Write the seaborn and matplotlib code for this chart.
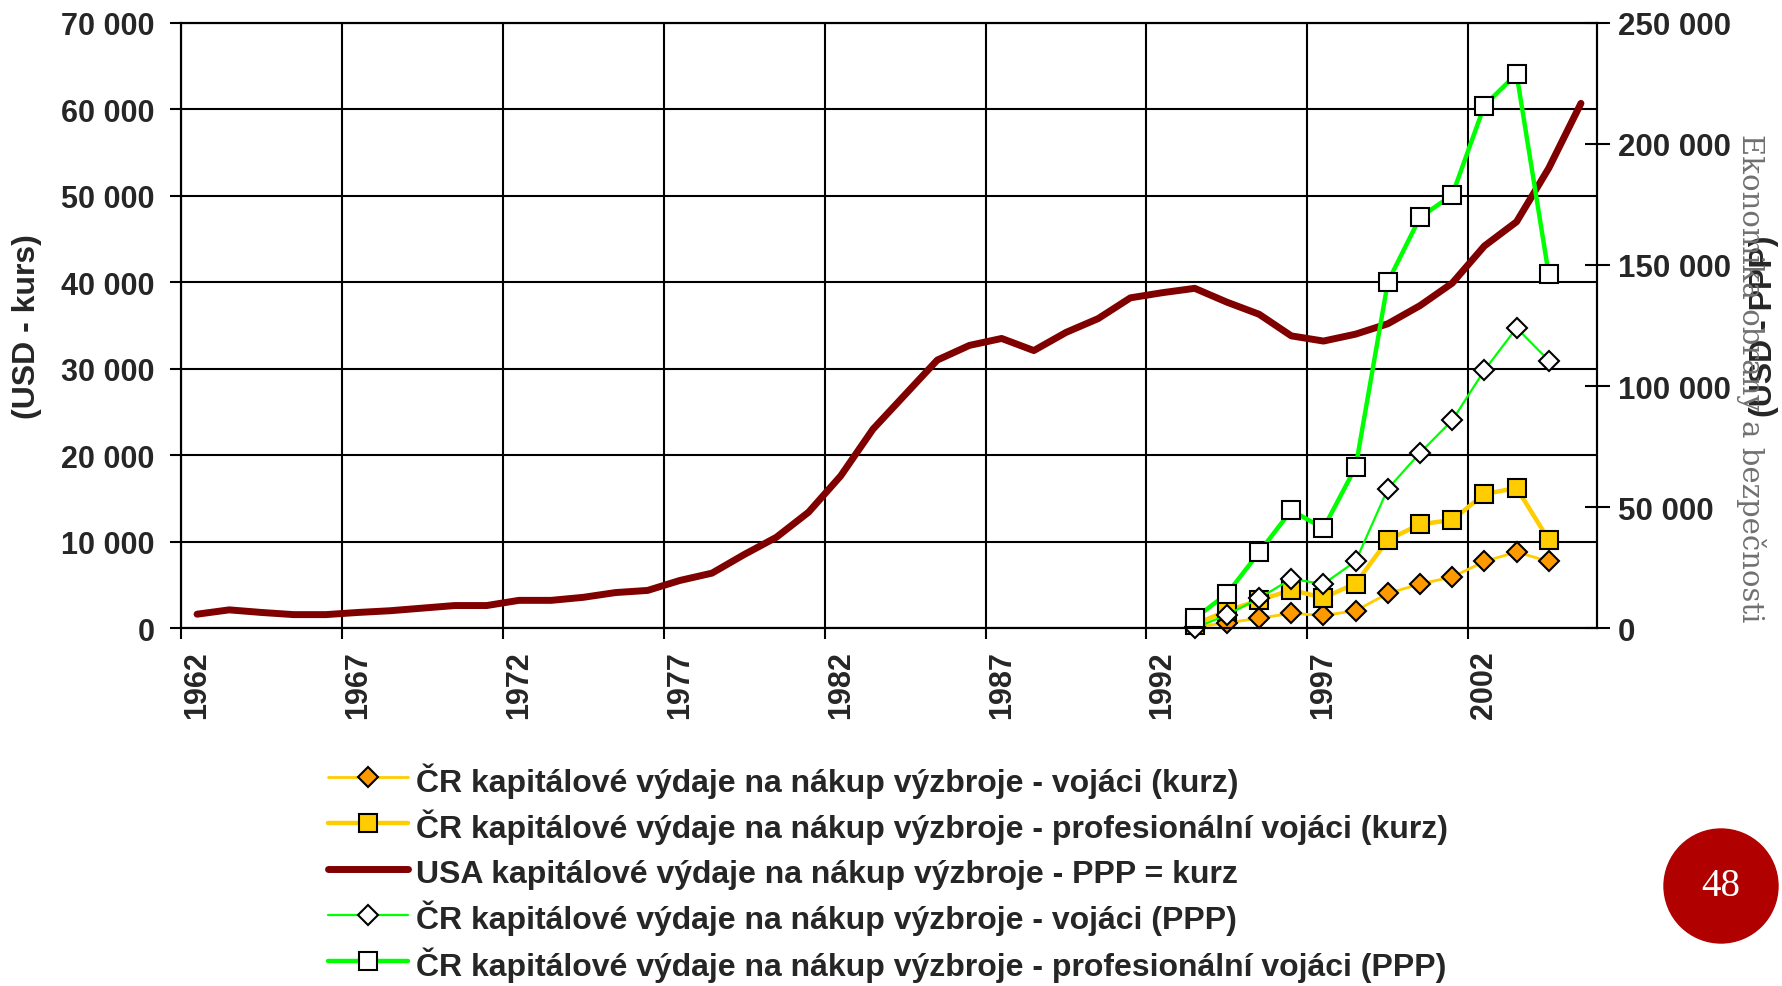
import numpy as np
import pandas as pd
import matplotlib
matplotlib.use("Agg")
import matplotlib.pyplot as plt
import seaborn as sns
from matplotlib.patches import Ellipse

# Data
years = list(range(1962, 2006))
usa_kurz = [1600, 2100, 1800, 1550, 1550, 1800, 2000, 2300, 2600, 2600,
            3200, 3200, 3550, 4100, 4350, 5500, 6350, 8500, 10500, 13400,
            17600, 23000, 27000, 31000, 32700, 33500, 32100, 34200, 35800, 38200,
            38800, 39300, 37700, 36300, 33800, 33200, 34000, 35200, 37300, 39900,
            44200, 47000, 53200, 60700]

cz_years = list(range(1993, 2005))
cz_voj_kurz = [100, 600, 1130, 1700, 1450, 2000, 4000, 5100, 5900, 7700, 8800, 7700]
cz_prof_kurz = [400, 2000, 3200, 4400, 3500, 5150, 10200, 12000, 12500, 15500, 16200, 10200]
cz_voj_ppp = [0, 5400, 12300, 20300, 18200, 27600, 57500, 72400, 85800, 106500, 124000, 110500]
cz_prof_ppp = [4000, 14100, 31300, 48600, 41200, 66500, 143000, 169700, 178900, 215900, 229000, 146100]

labels = [
    "ČR kapitálové výdaje na nákup výzbroje - vojáci (kurz)",
    "ČR kapitálové výdaje na nákup výzbroje - profesionální vojáci (kurz)",
    "USA kapitálové výdaje na nákup výzbroje - PPP = kurz",
    "ČR kapitálové výdaje na nákup výzbroje - vojáci (PPP)",
    "ČR kapitálové výdaje na nákup výzbroje - profesionální vojáci (PPP)",
]
left_ticks = list(range(0, 70001, 10000))
right_ticks = list(range(0, 250001, 50000))
xlabel_years = years[::5]

sns.set_theme(style="white")
plt.rcParams["font.family"] = ["Liberation Sans", "DejaVu Sans"]
plt.rcParams["font.weight"] = "bold"
plt.rcParams["axes.edgecolor"] = "black"
plt.rcParams["axes.linewidth"] = 1.5

fig = plt.figure(figsize=(17.83, 9.87), dpi=100)
ax = fig.add_axes([0.1015, 0.3627, 0.7942, 0.6130])
ax2 = ax.twinx()

yellow = "#FFCC00"
green = "#00FF00"

sns.lineplot(x=cz_years, y=cz_voj_kurz, ax=ax, color=yellow, linewidth=2,
             marker="D", markersize=10.5, markerfacecolor="#FF9900",
             markeredgecolor="black", markeredgewidth=1.5, label=labels[0],
             legend=False, clip_on=False)
sns.lineplot(x=cz_years, y=cz_prof_kurz, ax=ax, color=yellow, linewidth=3.2,
             marker="s", markersize=12.5, markerfacecolor=yellow,
             markeredgecolor="black", markeredgewidth=1.5, label=labels[1],
             legend=False, clip_on=False)
sns.lineplot(x=years, y=usa_kurz, ax=ax, color="#800000", linewidth=5,
             label=labels[2], legend=False)
sns.lineplot(x=cz_years, y=cz_voj_ppp, ax=ax2, color=green, linewidth=1.6,
             marker="D", markersize=10.5, markerfacecolor="white",
             markeredgecolor="black", markeredgewidth=1.5, label=labels[3],
             legend=False, clip_on=False)
sns.lineplot(x=cz_years, y=cz_prof_ppp, ax=ax2, color=green, linewidth=3.2,
             marker="s", markersize=12.5, markerfacecolor="white",
             markeredgecolor="black", markeredgewidth=1.5, label=labels[4],
             legend=False, clip_on=False)

# x axis: labels at category centres, grid at category boundaries
ax.set_xlim(years[0] - 0.5, years[-1] + 0.5)
ax.set_xticks(xlabel_years)
ax.set_xticklabels([str(y) for y in xlabel_years], rotation=90, fontsize=22)
ax.set_xticks([y - 0.5 for y in xlabel_years], minor=True)
ax.tick_params(axis="x", which="major", length=0, pad=16)
ax.tick_params(axis="x", which="minor", direction="out", length=8, width=1.5,
               bottom=True, color="black")
ax.grid(True, which="minor", axis="x", color="black", linewidth=1.5)

ax.set_ylim(0, 70000)
ax.set_yticks(left_ticks)
ax.set_yticklabels([f"{v:,}".replace(",", " ") for v in left_ticks], fontsize=22)
ax.tick_params(axis="y", direction="out", length=8, width=1.5, pad=11,
               left=True, color="black")
ax.grid(True, which="major", axis="y", color="black", linewidth=1.5)
ax.grid(False, which="major", axis="x")
ax.set_axisbelow(True)

ax2.set_ylim(0, 250000)
ax2.set_yticks(right_ticks)
ax2.set_yticklabels([f"{v:,}".replace(",", " ") for v in right_ticks], fontsize=22.5)
ax2.tick_params(axis="y", direction="inout", length=18, width=1.5, pad=6,
                right=True, color="black")
ax2.grid(False)

ax.set_xlabel("")
ax.set_ylabel("(USD - kurs)", fontsize=23, fontweight="bold")
ax.yaxis.set_label_coords(-0.098, 0.5)
ax2.set_ylabel("(USD - PPP)", fontsize=23, fontweight="bold", rotation=90)
ax2.yaxis.set_label_coords(1.107, 0.5)

for a in (ax, ax2):
    for s in a.spines.values():
        s.set_color("black")
        s.set_linewidth(1.5)

handles = ax.get_legend_handles_labels()[0] + ax2.get_legend_handles_labels()[0]
fig.legend(handles, labels, loc="upper left", bbox_to_anchor=(0.184, 0.2262),
           frameon=False, fontsize=23, handlelength=2.5, handletextpad=0.26,
           handleheight=1.25, labelspacing=0.33, borderpad=0, borderaxespad=0)

# slide decorations
fig.text(1751 / 1783, 1 - 378 / 987, "Ekonomika obrany a bezpečnosti",
         rotation=270, ha="center", va="center", family="DejaVu Serif",
         fontsize=21, fontweight="normal", color="#707070")
fig.patches.append(Ellipse((1721 / 1783, 1 - 887 / 987), 114 / 1783, 114 / 987,
                           transform=fig.transFigure, color="#B00000"))
fig.text(1721 / 1783, 1 - 887 / 987, "48", ha="center", va="center",
         family="Liberation Serif", fontsize=28, fontweight="normal", color="white")

fig.savefig("out.png", dpi=100)
